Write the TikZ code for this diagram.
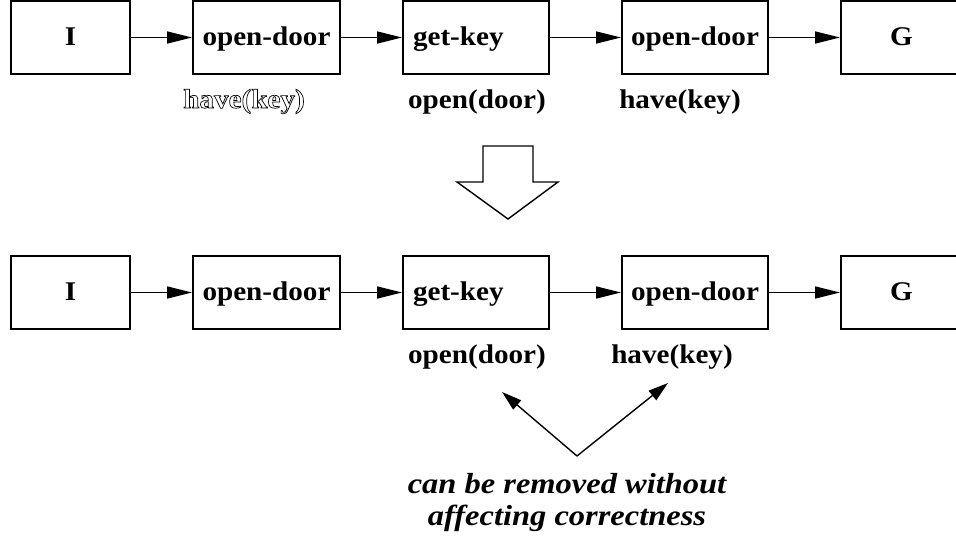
\documentclass[tikz,border=0pt]{standalone}
\usepackage{fontspec}
\setmainfont[FakeStretch=1.08]{Liberation Serif}
\newfontfamily\notefont[FakeStretch=1.12]{Liberation Serif}
\usetikzlibrary{arrows.meta}
% outlined (hollow) lettering via the PDF text render mode
\newcommand{\hollow}[1]{\special{pdf:code 1 Tr 0.7 w}#1\special{pdf:code 0 Tr 0.4 w}}
\begin{document}
\begin{tikzpicture}[x=1pt,y=-1pt,
  stepbox/.style={draw,line width=1.9pt,minimum height=73pt,inner sep=0pt,
    text height=15pt,text depth=0pt,
    font=\fontsize{27}{30}\selectfont\bfseries},
  lbl/.style={anchor=base,inner sep=0pt,font=\fontsize{27}{30}\selectfont\bfseries},
  link/.style={line width=1.5pt,-{Triangle[length=25pt,width=12pt]}},
  pointer/.style={line width=1.4pt,-{Triangle[length=20pt,width=12pt]}}]
\useasboundingbox (0,0) rectangle (956,541);
\fill[white] (0,0) rectangle (956,541);

% upper plan
\node[stepbox,minimum width=119pt] (i1) at (70.5,37.5) {I};
\node[stepbox,minimum width=147pt] (a1) at (266.5,37.5) {open-door};
\node[stepbox,minimum width=146pt,text width=126pt,align=left] (b1) at (476,37.5) {get-key};
\node[stepbox,minimum width=146pt] (c1) at (695,37.5) {open-door};
\node[stepbox,minimum width=121pt] (g1) at (901.5,37.5) {G};
\draw[link] (i1) -- (a1);
\draw[link] (a1) -- (b1);
\draw[link] (b1) -- (c1);
\draw[link] (c1) -- (g1);
\node[lbl] (p1) at (244,108) {\hollow{have(key)}};
\node[lbl] (q1) at (477,108) {open(door)};
\node[lbl] (r1) at (680,108) {have(key)};

% block arrow between the two plans
\draw[line width=1.4pt,fill=white] (483,146) -- (533,146) -- (533,182) -- (558,182)
  -- (508,219) -- (457,182) -- (483,182) -- cycle;

% lower plan
\node[stepbox,minimum width=119pt] (i2) at (70.5,292.5) {I};
\node[stepbox,minimum width=147pt] (a2) at (266.5,292.5) {open-door};
\node[stepbox,minimum width=146pt,text width=126pt,align=left] (b2) at (476,292.5) {get-key};
\node[stepbox,minimum width=146pt] (c2) at (695,292.5) {open-door};
\node[stepbox,minimum width=121pt] (g2) at (901.5,292.5) {G};
\draw[link] (i2) -- (a2);
\draw[link] (a2) -- (b2);
\draw[link] (b2) -- (c2);
\draw[link] (c2) -- (g2);
\node[lbl] (q2) at (477,363) {open(door)};
\node[lbl] (r2) at (672,363) {have(key)};

% note with its two pointers
\coordinate (v) at (577,456);
\coordinate (tl) at (502,392);
\coordinate (tr) at (668,383);
\draw[pointer] (v) -- (tl);
\draw[pointer] (v) -- (tr);
\node[align=center,inner sep=0pt,anchor=base,
  font=\notefont\fontsize{29}{32}\selectfont\bfseries\itshape] (note) at (567,525)
  {can be removed without\\affecting correctness};
\end{tikzpicture}
\end{document}
